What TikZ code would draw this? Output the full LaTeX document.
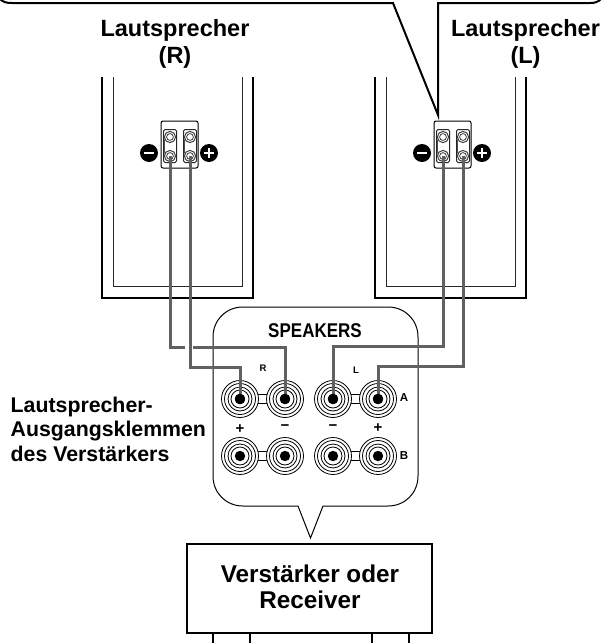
\documentclass[tikz,border=0pt]{standalone}
\usepackage{graphicx}
\usepackage{fontspec}
\setmainfont{Liberation Sans}
\tikzset{
  x=1pt,y=-1pt,
  outerline/.style={line width=2pt,black},
  innerline/.style={line width=1pt,black!85},
  wire/.style={line width=3pt,black!62,line join=miter},
  gapline/.style={line width=4pt,white},
  thinline/.style={line width=1pt,black},
  ring/.style={line width=0.8pt,black,fill=white},
  head/.style={font=\bfseries\fontsize{23.5}{27}\selectfont,align=center,inner sep=0pt},
  sidetext/.style={font=\bfseries\fontsize{21.3}{24.5}\selectfont,align=left,inner sep=0pt},
  amptext/.style={font=\bfseries\fontsize{24.3}{25.5}\selectfont,align=center,inner sep=0pt},
  paneltext/.style={font=\bfseries\fontsize{17}{17}\selectfont,inner sep=0pt},
  smalltext/.style={font=\bfseries\fontsize{9.5}{10}\selectfont,inner sep=0pt},
  midtext/.style={font=\bfseries\fontsize{11.5}{12}\selectfont,inner sep=0pt},
  signtext/.style={font=\bfseries\fontsize{15}{15}\selectfont,inner sep=0pt},
}
\begin{document}
\begin{tikzpicture}
\useasboundingbox (0,0) rectangle (602,643);
% top callout
\draw[outerline,line join=miter] (0,-1) .. controls (3,2) and (6,3) .. (12,3) -- (393,3) -- (438,115) -- (438,3) -- (590,3) .. controls (595,3) and (598,2) .. (601,-1);
% speaker labels
\node[head] (labR) at (175,44) {Lautsprecher\\(R)};
\node[head] (labL) at (525.5,44) {Lautsprecher\\(L)};
% speakers and their terminal plates
\foreach \o/\n in {0/R,273/L}{
  \draw[outerline,line join=miter] (102+\o,77) -- (102+\o,298) -- (253+\o,298) -- (253+\o,77);
  \draw[innerline,line join=miter] (113.5+\o,77) -- (113.5+\o,286) -- (242+\o,286) -- (242+\o,77);
  \draw[thinline,fill=white,rounded corners=2pt] (161+\o,121) rectangle (198+\o,168);
  \foreach \x in {170,190}{
    \draw[line width=1pt,black!85,rounded corners=1.5pt] (\x-6.5+\o,129.5) rectangle (\x+6.5+\o,162.5);
    \draw[line width=0.9pt,black!70] (\x+\o-5.7,136.5) -- (\x+\o-5.7,156.5);
    \foreach \y in {137,156}{
      \fill[white] (\x+\o,\y) circle (6pt);
      \draw[line width=1pt,black!75] (\x+\o,\y) circle (5.6pt);
      \draw[line width=0.8pt,black!75] (\x+\o,\y) circle (3.4pt);
    }
  }
  \coordinate (s\n m) at (170+\o,156);
  \coordinate (s\n p) at (190+\o,156);
  \fill[black] (149+\o,153) circle (9pt);
  \draw[white,line width=2.5pt] (144+\o,153) -- (154+\o,153);
  \fill[black] (209+\o,153) circle (9pt);
  \draw[white,line width=2.5pt] (204+\o,153) -- (214+\o,153) (209+\o,148) -- (209+\o,158);
}
% amplifier panel
\draw[thinline,rounded corners=0pt,line join=miter] (298,506) -- (310.5,538) -- (323,506) -- (388,506)
  .. controls (405,506) and (418,493) .. (418,476) -- (418,337)
  .. controls (418,320) and (405,307) .. (388,307) -- (243,307)
  .. controls (226,307) and (213,320) .. (213,337) -- (213,476)
  .. controls (213,493) and (226,506) .. (243,506) -- cycle;
\node[paneltext] (spk) at (315,330.5) {\scalebox{1}[1.17]{SPEAKERS}};
% jacks
\foreach \y/\r in {399/a,456/b}{
  \foreach \xa/\xb/\n in {240/285/R,333/378/L}{
    \draw[line width=0.8pt] (\xa,\y-4.5) -- (\xb,\y-4.5) (\xa,\y+4.5) -- (\xb,\y+4.5);
    \foreach \x in {\xa,\xb}{
      \draw[ring] (\x,\y) circle (18.5pt);
      \draw[ring] (\x,\y) circle (15.5pt);
      \draw[ring] (\x,\y) circle (12pt);
      \draw[ring] (\x,\y) circle (9pt);
      \fill[black] (\x,\y) circle (5.2pt);
    }
  }
}
\coordinate (jRp) at (240,399);
\coordinate (jRm) at (285,399);
\coordinate (jLm) at (333,399);
\coordinate (jLp) at (378,399);
\coordinate (hA) at (230,347);
\coordinate (hB) at (215,367);
\coordinate (hC) at (400,346);
\coordinate (hD) at (420,366);
\coordinate (gapL) at (185,347);
\coordinate (gapR) at (193,347);
% wires
\draw[wire] (sRm) |- (hA) -| (jRm);
\draw[gapline] (gapL) -- (gapR);
\draw[wire] (sRp) |- (hB) -| (jRp);
\draw[wire] (sLm) |- (hC) -| (jLm);
\draw[wire] (sLp) |- (hD) -| (jLp);
\foreach \c in {jRp,jRm,jLm,jLp}{\fill[black] (\c) circle (5.2pt);}
% panel labels
\node[smalltext] (chR) at (263,368) {R};
\node[smalltext] (chL) at (356,370) {L};
\node[midtext] (rowA) at (404,398) {A};
\node[midtext] (rowB) at (404,456) {B};
\node[signtext] (s1) at (240,429) {+};
\node[signtext] (s2) at (285,428) {−};
\node[signtext] (s3) at (333,428) {−};
\node[signtext] (s4) at (378,428) {+};
% side label
\node[sidetext,anchor=west] (side) at (10.5,429) {Lautsprecher-\\Ausgangsklemmen\\des Verstärkers};
% amplifier
\node[draw,line width=2.5pt,minimum width=245pt,minimum height=89pt,inner sep=0pt] (amp) at (309.5,588.5) {};
\node[amptext] (amptxt) at (310,587) {Verstärker oder\\Receiver};
\draw[line width=2pt] (213,634) -- (213,643) (250,634) -- (250,643) (372,634) -- (372,643) (409,634) -- (409,643);
\end{tikzpicture}
\end{document}
